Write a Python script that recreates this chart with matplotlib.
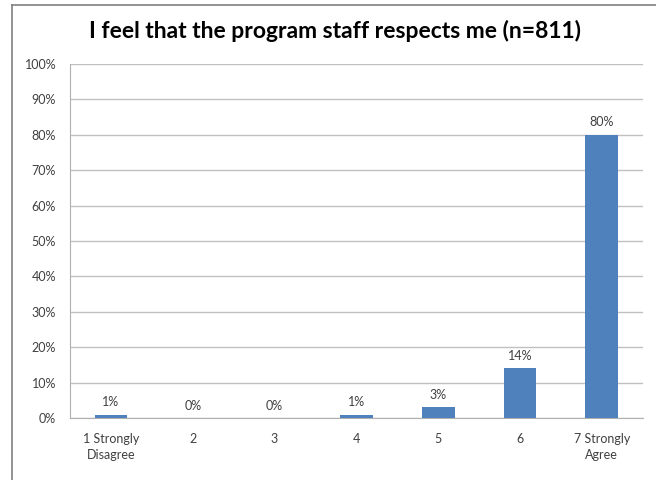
import numpy as np
import matplotlib.pyplot as plt
from matplotlib.lines import Line2D

categories = ["1 Strongly\nDisagree", "2", "3", "4", "5", "6", "7 Strongly\nAgree"]
percents = [1, 0, 0, 1, 3, 14, 80]
yticks = [0, 10, 20, 30, 40, 50, 60, 70, 80, 90, 100]

plt.rcParams['font.family'] = ['Lato', 'DejaVu Sans']

fig = plt.figure(figsize=(6.56, 4.8), dpi=100)
ax = fig.add_axes([0.1067, 0.129, 0.873, 0.738])

x = np.arange(len(categories))
ax.bar(x, percents, width=0.4, color='#4f81bd', zorder=3)

for xi, v in zip(x, percents):
    ax.text(xi, v + 1.8, "%d%%" % v, ha='center', va='bottom',
            fontsize=9, color='#404040')

ax.set_xlim(-0.5, len(categories) - 0.5)
ax.set_ylim(0, 100)
ax.set_yticks(yticks)
ax.set_yticklabels(["%d%%" % t for t in yticks])
ax.set_xticks(x)
ax.set_xticklabels(categories, linespacing=1.4)
ax.tick_params(axis='both', length=0, labelsize=9, labelcolor='#404040')
ax.tick_params(axis='x', pad=11)
ax.tick_params(axis='y', pad=10)
ax.grid(axis='y', color='#c0c0c0', linewidth=1, zorder=0)

for s in ['top', 'right']:
    ax.spines[s].set_visible(False)
ax.spines['left'].set_color('#b0b0b0')
ax.spines['bottom'].set_color('#b0b0b0')

fig.text(0.511, 0.935, "I feel that the program staff respects me (n=811)",
         ha='center', va='center', fontsize=16.5, fontweight='bold', color='black')

# chart frame
fig.add_artist(Line2D([0.018, 0.018], [0, 0.99], color='#808080', lw=1.2,
                      transform=fig.transFigure))
fig.add_artist(Line2D([0.018, 1.0], [0.99, 0.99], color='#808080', lw=1.2,
                      transform=fig.transFigure))

fig.savefig("out.png", dpi=100)
